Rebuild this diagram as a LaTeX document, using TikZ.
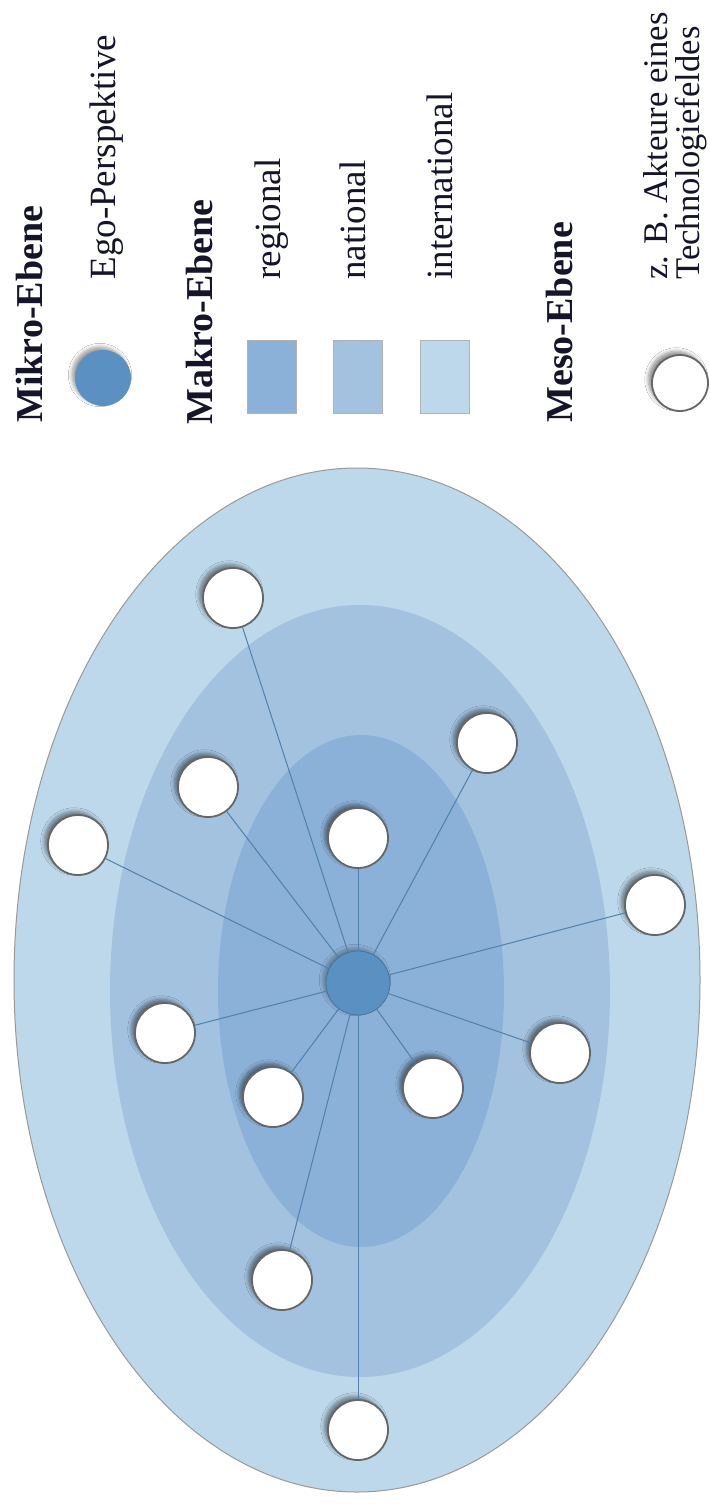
\documentclass[tikz,border=0pt]{standalone}
\usepackage{fontspec}
\setmainfont{Liberation Serif}
\usetikzlibrary{shadows.blur}
\definecolor{intl}{HTML}{BDD8EA}
\definecolor{natl}{HTML}{A3C2E0}
\definecolor{regl}{HTML}{8CB1D8}
\definecolor{egoc}{HTML}{5A90C2}
\definecolor{linkc}{HTML}{5080AC}
\definecolor{txtc}{HTML}{14142A}
\tikzset{
  sat/.style={circle, fill=white, draw=black!60, line width=0.9pt, minimum size=30pt, inner sep=0pt,
    blur shadow={shadow xshift=-1.8pt, shadow yshift=1.8pt, shadow blur steps=6, shadow opacity=45}},
  ego/.style={circle, fill=egoc, draw=egoc!80!black, line width=0.4pt, minimum size=32pt, inner sep=0pt,
    blur shadow={shadow xshift=-1.5pt, shadow yshift=1.5pt, shadow blur steps=6, shadow opacity=30}},
  link/.style={draw=linkc, line width=0.5pt},
  lab/.style={rotate=90, anchor=base west, inner sep=0pt, text=txtc, font=\fontsize{18.5pt}{22pt}\selectfont},
  smalllab/.style={lab, font=\fontsize{17.3pt}{21pt}\selectfont},
  head/.style={lab, font=\fontsize{19pt}{22pt}\selectfont\bfseries},
  swatch/.style={draw=black!30, line width=0.5pt, minimum width=24.5pt, minimum height=36.5pt, inner sep=0pt}
}
\begin{document}
\begin{tikzpicture}[x=0.5pt,y=-0.5pt]
\useasboundingbox (0,0) rectangle (710,1508);
\fill[white] (0,0) rectangle (710,1508);
% levels
\filldraw[fill=intl, draw=black!40, line width=0.5pt] (357,980) ellipse [x radius=343, y radius=512];
\fill[natl] (360,991) ellipse [x radius=250, y radius=386];
\fill[regl] (361,991) ellipse [x radius=143, y radius=256];
% ego and actors
\node[ego] (ego) at (358,983) {};
\node[sat] (s1) at (233,598) {};
\node[sat] (s2) at (78,845) {};
\node[sat] (s3) at (208,787) {};
\node[sat] (s4) at (487,743) {};
\node[sat] (s5) at (358,838) {};
\node[sat] (s6) at (655,905) {};
\node[sat] (s7) at (165,1033) {};
\node[sat] (s8) at (273,1097) {};
\node[sat] (s9) at (433,1088) {};
\node[sat] (s10) at (560,1053) {};
\node[sat] (s11) at (282,1280) {};
\node[sat] (s12) at (358,1430) {};
\foreach \s in {s1,s2,s3,s4,s5,s6,s7,s8,s9,s10,s11,s12}
  \draw[link] (ego) -- (\s);
% legend
\node[head] (h1) at (42,423) {Mikro-Ebene};
\node[circle, fill=egoc, minimum size=28pt, inner sep=0pt,
  blur shadow={shadow xshift=-1.5pt, shadow yshift=1.5pt, shadow blur steps=6, shadow opacity=40}] (l1) at (103,378) {};
\node[lab] (t1) at (115,280) {Ego-Perspektive};
\node[head] (h2) at (212,425) {Makro-Ebene};
\node[swatch, fill=regl] (q1) at (272,377) {};
\node[lab] (t2) at (280,280) {regional};
\node[swatch, fill=natl] (q2) at (358,377) {};
\node[lab] (t3) at (365,280) {national};
\node[swatch, fill=intl] (q3) at (445,377) {};
\node[lab] (t4) at (452,280) {international};
\node[head] (h3) at (572,423) {Meso-Ebene};
\node[sat, minimum size=28pt] (l2) at (680,383) {};
\node[smalllab] (t5) at (667,280) {z. B. Akteure eines};
\node[smalllab] (t6) at (699,280) {Technologiefeldes};
\end{tikzpicture}
\end{document}
